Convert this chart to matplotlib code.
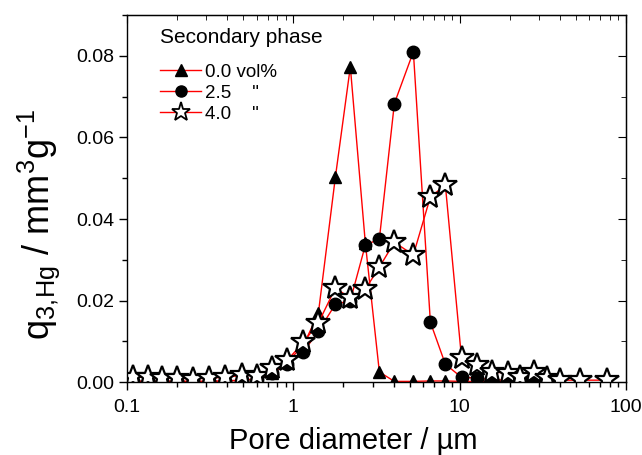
import numpy as np
import matplotlib
matplotlib.use("Agg")
import matplotlib.pyplot as plt
from matplotlib.ticker import FixedLocator, FuncFormatter, MultipleLocator, LogLocator

plt.rcParams['font.family'] = ['Liberation Sans', 'DejaVu Sans']
plt.rcParams['mathtext.fontset'] = 'custom'
plt.rcParams['mathtext.rm'] = 'Liberation Sans'
plt.rcParams['mathtext.it'] = 'Liberation Sans'

# pore diameter grid (um)
d = [0.109, 0.134, 0.163, 0.200, 0.250, 0.312, 0.390, 0.494, 0.608, 0.748,
     0.920, 1.148, 1.413, 1.789, 2.200, 2.708, 3.289, 4.048, 5.266, 6.665,
     8.203, 10.26, 12.8, 15.7, 19.6, 23.2, 27.8, 33.6, 40.3, 53.1, 77.3]

# 0.0 vol%
q_00 = [0.0002, 0.0002, 0.0002, 0.0002, 0.0002, 0.0002, 0.0003, 0.0005, 0.0008, 0.0022,
        0.0050, 0.0090, 0.0169, 0.0503, 0.0773, 0.0341, 0.0025, 0.0002, 0.0002, 0.0003,
        0.0003, 0.0002, 0.0002, 0.0002, 0.0002, 0.0002, 0.0002, 0.0002]
# 2.5 vol%
q_25 = [0.0002, 0.0002, 0.0002, 0.0002, 0.0002, 0.0002, 0.0003, 0.0005, 0.0008, 0.0022,
        0.0045, 0.0074, 0.0125, 0.0191, 0.0200, 0.0336, 0.0351, 0.0683, 0.0810, 0.0147,
        0.0044, 0.0012, 0.0010, 0.0006, 0.0005, 0.0005, 0.0004, 0.0003]
# 4.0 vol%
q_40 = [0.0012, 0.0012, 0.0010, 0.0010, 0.0008, 0.0010, 0.0012, 0.0017, 0.0015, 0.0034,
        0.0054, 0.0098, 0.0145, 0.0231, 0.0206, 0.0228, 0.0282, 0.0343, 0.0312, 0.0454,
        0.0483, 0.0059, 0.0042, 0.0025, 0.0022, 0.0012, 0.0025, 0.0010, 0.0005, 0.0005,
        0.0005]

labels = ['0.0 vol%', '2.5    "', '4.0    "']

fig = plt.figure(figsize=(6.42, 4.55), dpi=100)
ax = fig.add_axes([0.198, 0.160, 0.777, 0.807])

ax.plot(d[:len(q_00)], q_00, color='red', lw=1, marker='^', ms=9, mfc='black',
        mec='black', label=labels[0])
ax.plot(d[:len(q_25)], q_25, color='red', lw=1, marker='o', ms=9, mfc='black',
        mec='black', label=labels[1])
ax.plot(d, q_40, color='red', lw=1, marker='*', ms=18, mfc='white',
        mec='black', mew=1.6, label=labels[2])

ax.set_xscale('log')
ax.set_xlim(0.1, 100)
ax.set_ylim(0, 0.09)
ax.xaxis.set_major_locator(FixedLocator([0.1, 1, 10, 100]))
ax.xaxis.set_major_formatter(FuncFormatter(lambda v, p: '%g' % v))
ax.xaxis.set_minor_locator(LogLocator(base=10, subs=np.arange(2, 10)))
ax.xaxis.set_minor_formatter(FuncFormatter(lambda v, p: ''))
ax.yaxis.set_major_locator(FixedLocator([0, 0.02, 0.04, 0.06, 0.08]))
ax.yaxis.set_major_formatter(FuncFormatter(lambda v, p: '%.2f' % v))
ax.yaxis.set_minor_locator(MultipleLocator(0.01))

ax.tick_params(which='both', direction='out', labelsize=14)
ax.tick_params(which='major', length=6, width=1)
ax.tick_params(which='minor', length=3.5, width=1)
ax.tick_params(axis='x', pad=6)
for sp in ax.spines.values():
    sp.set_linewidth(1)

# top/right ticks point inward
ax.xaxis.set_ticks_position('bottom')
ax.yaxis.set_ticks_position('left')
ax2 = ax.secondary_xaxis('top')
ax2.xaxis.set_major_locator(FixedLocator([0.1, 1, 10, 100]))
ax2.xaxis.set_minor_locator(LogLocator(base=10, subs=np.arange(2, 10)))
ax2.tick_params(which='both', direction='in', labeltop=False)
ax2.tick_params(which='major', length=6)
ax2.tick_params(which='minor', length=3.5)
ax3 = ax.secondary_yaxis('right')
ax3.yaxis.set_major_locator(FixedLocator([0, 0.02, 0.04, 0.06, 0.08]))
ax3.yaxis.set_minor_locator(MultipleLocator(0.01))
ax3.tick_params(which='both', direction='in', labelright=False)
ax3.tick_params(which='major', length=6)
ax3.tick_params(which='minor', length=3.5)

ax.set_xlabel('Pore diameter / µm', fontsize=21)
ax.xaxis.set_label_coords(0.453, -0.122)
ax.set_ylabel(r'q$_{3,\!\mathrm{Hg}}$ / mm$^{3}$g$^{-1}$', fontsize=26)
ax.yaxis.set_label_coords(-0.13, 0.43)

leg = ax.legend(loc='upper left', title='Secondary phase', frameon=False,
                fontsize=13.5, title_fontsize=15, handlelength=2.2,
                handletextpad=0.2, labelspacing=0.2, borderaxespad=0.3,
                bbox_to_anchor=(0.04, 1.0))
leg._legend_box.align = 'left'
leg._legend_box.sep = 12
for h in leg.legend_handles:
    if h.get_marker() == '*':
        h.set_markersize(14)
        h.set_markeredgewidth(1.3)
    else:
        h.set_markersize(8)

fig.savefig('out.png', dpi=100)
